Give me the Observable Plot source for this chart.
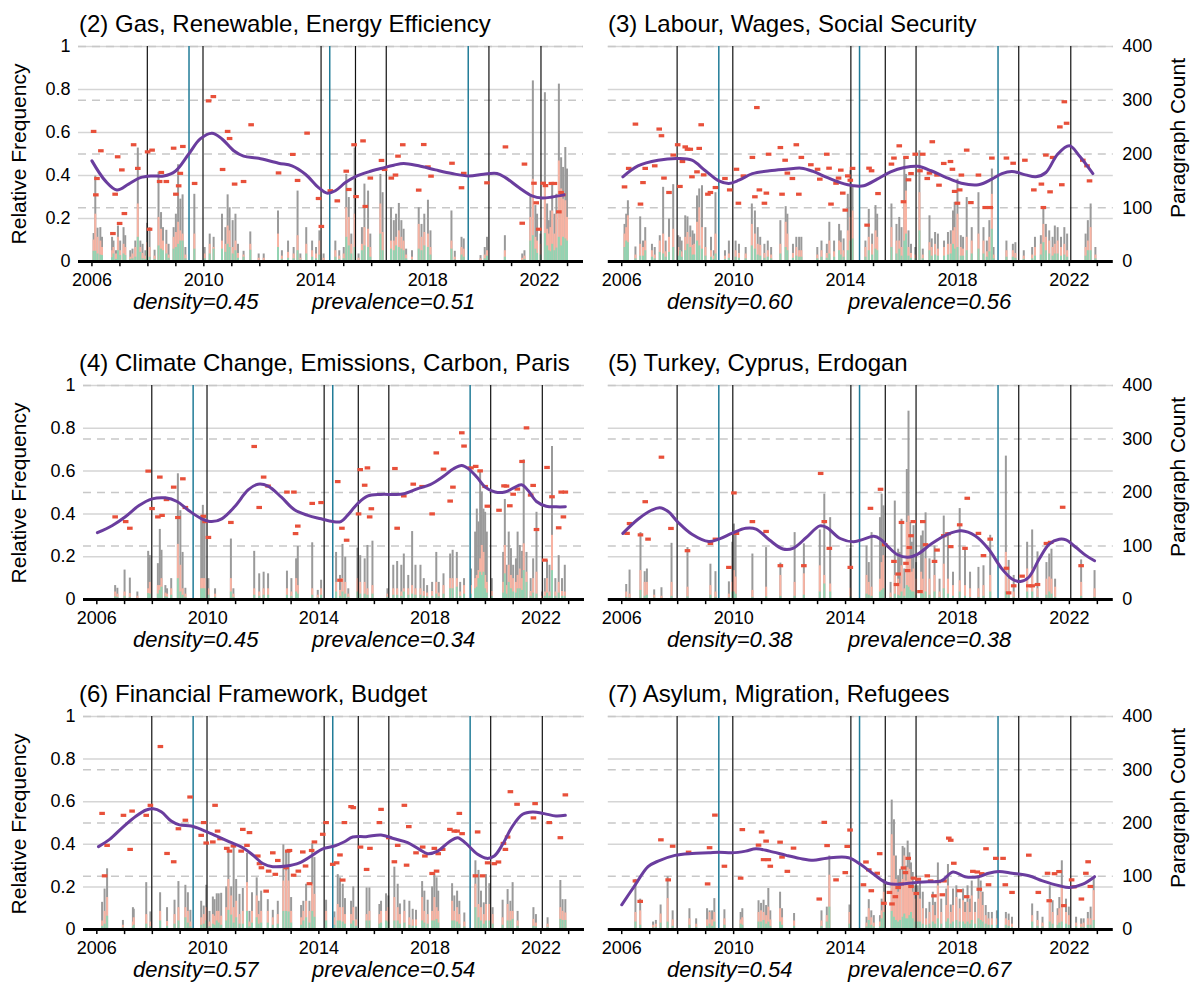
<!DOCTYPE html>
<html><head><meta charset="utf-8">
<script src="https://cdn.jsdelivr.net/npm/d3@7"></script>
<script src="https://cdn.jsdelivr.net/npm/@observablehq/plot@0.6"></script>
<style>
html,body{margin:0;padding:0;background:#fff;}
#root{position:relative;width:1193px;height:998px;overflow:hidden;font-family:"Liberation Sans",Arial,Helvetica,sans-serif;}
#root svg{position:absolute;}
</style></head><body><div id="root"></div>
<script>
// ---------- shared axis values ----------
const yearTicks = [2006,2007,2008,2009,2010,2011,2012,2013,2014,2015,2016,2017,2018,2019,2020,2021,2022,2023];
const yearLabels = [2006,2010,2014,2018,2022];
const relTicks = [0,0.2,0.4,0.6,0.8,1];
const countTicks = [0,100,200,300,400];
const countMax = 400;
const blackEvents = [2007.98,2009.97,2014.19,2015.42,2016.52,2020.19,2022.05];
const tealEvents = [2009.47,2014.5,2019.45];

const titles = ["(2) Gas, Renewable, Energy Efficiency","(3) Labour, Wages, Social Security","(4) Climate Change, Emissions, Carbon, Paris","(5) Turkey, Cyprus, Erdogan","(6) Financial Framework, Budget","(7) Asylum, Migration, Refugees"];
const densities = ["0.45","0.60","0.45","0.38","0.57","0.54"];
const prevalences = ["0.51","0.56","0.34","0.38","0.54","0.67"];

// bars: [year, paragraph count (gray), topic paragraphs (salmon), core (green)]
const bars2 = [[2006.06,52,40,19],[2006.12,159,88,19],[2006.2,62,45,14],[2006.3,63,38,12],[2006.36,45,26,11],[2006.72,45,20,7],[2006.77,38,26,14],[2006.86,20,14,4],[2006.93,66,45,20],[2007.01,38,20,11],[2007.13,63,32,14],[2007.19,48,26,11],[2007.37,20,8,4],[2007.45,23,14,5],[2007.55,38,26,8],[2007.64,211,107,45],[2007.73,38,26,17],[2007.81,32,15,5],[2007.91,20,10,4],[2007.97,71,35,20],[2008.06,63,26,8],[2008.24,21,10,4],[2008.38,166,82,29],[2008.47,91,60,23],[2008.54,63,38,20],[2008.66,58,32,14],[2008.74,32,12,6],[2008.92,63,45,23],[2009.0,88,54,26],[2009.08,180,73,32],[2009.16,116,57,38],[2009.24,124,51,38],[2009.34,26,12,5],[2009.66,125,51,23],[2010.03,26,14,5],[2010.21,51,32,14],[2010.35,45,26,23],[2010.65,88,38,23],[2010.77,63,32,17],[2010.85,124,66,32],[2010.92,100,57,26],[2011.03,76,26,14],[2011.13,88,38,20],[2011.22,32,15,6],[2011.42,19,12,8],[2011.66,55,32,21],[2011.96,14,6,2],[2012.14,14,6,2],[2012.65,94,51,26],[2012.79,20,10,4],[2013.01,38,17,6],[2013.21,26,14,5],[2013.35,131,48,20],[2013.45,14,6,3],[2013.66,63,32,14],[2013.87,38,20,8],[2014.01,26,14,5],[2014.13,57,38,12],[2014.28,14,6,2],[2014.7,38,20,8],[2014.84,20,10,4],[2015.0,26,14,5],[2015.09,162,100,45],[2015.18,119,82,29],[2015.27,51,32,14],[2015.39,211,88,26],[2015.53,14,6,2],[2015.65,63,32,20],[2015.74,144,63,29],[2015.87,131,60,26],[2015.95,51,26,8],[2016.31,162,107,51],[2016.39,128,54,20],[2016.69,100,38,23],[2016.79,76,38,20],[2016.87,88,45,29],[2016.97,108,57,26],[2017.06,76,45,23],[2017.14,60,38,20],[2017.23,23,12,5],[2017.44,20,8,3],[2017.68,100,69,23],[2017.78,69,45,20],[2017.88,88,54,29],[2018.01,114,51,26],[2018.1,57,26,12],[2018.85,94,38,23],[2018.97,19,8,3],[2019.21,45,26,12],[2019.29,42,23,8],[2019.89,11,5,2],[2020.04,26,12,5],[2020.12,45,20,10],[2020.76,48,20,8],[2021.38,14,6,2],[2021.46,20,10,4],[2021.67,120,82,38],[2021.76,336,153,48],[2021.85,104,45,23],[2021.91,88,38,15],[2022.03,51,32,12],[2022.19,314,144,52],[2022.27,107,60,29],[2022.33,76,51,20],[2022.39,94,63,18],[2022.45,144,94,32],[2022.53,88,51,20],[2022.6,125,88,25],[2022.69,330,187,45],[2022.77,193,135,29],[2022.84,175,116,45],[2022.92,212,113,42],[2022.98,172,82,38]];
const pts2 = [[2006.06,0.605],[2006.18,0.386],[2006.14,0.31],[2006.32,0.515],[2006.75,0.13],[2006.83,0.313],[2006.92,0.487],[2006.99,0.177],[2007.07,0.426],[2007.16,0.223],[2007.49,0.543],[2007.64,0.433],[2007.99,0.51],[2008.06,0.15],[2008.15,0.518],[2008.42,0.372],[2008.48,0.414],[2008.66,0.372],[2008.92,0.527],[2009.0,0.313],[2009.1,0.352],[2009.16,0.41],[2009.25,0.535],[2009.67,0.363],[2010.17,0.747],[2010.34,0.767],[2010.67,0.428],[2010.85,0.605],[2010.92,0.572],[2011.1,0.36],[2011.42,0.372],[2011.69,0.636],[2012.67,0.412],[2013.18,0.498],[2013.35,0.377],[2013.69,0.597],[2014.1,0.293],[2014.2,0.163],[2014.52,0.329],[2014.77,0.282],[2015.09,0.42],[2015.18,0.335],[2015.37,0.543],[2015.44,0.302],[2015.69,0.561],[2015.77,0.256],[2015.95,0.388],[2016.35,0.47],[2016.46,0.428],[2016.7,0.388],[2016.85,0.402],[2016.94,0.49],[2017.11,0.543],[2017.68,0.332],[2017.86,0.544],[2018.01,0.44],[2018.12,0.397],[2018.87,0.457],[2019.21,0.343],[2019.29,0.41],[2020.12,0.366],[2020.78,0.533],[2021.38,0.178],[2021.46,0.453],[2021.8,0.364],[2021.88,0.273],[2021.97,0.15],[2022.13,0.364],[2022.21,0.353],[2022.42,0.363],[2022.53,0.363],[2022.69,0.231],[2022.77,0.321],[2022.83,0.31]];
const smooth2 = [[2006.0,0.468],[2006.48,0.375],[2006.89,0.333],[2007.31,0.36],[2007.73,0.39],[2008.15,0.398],[2008.56,0.398],[2008.98,0.42],[2009.46,0.5],[2009.87,0.57],[2010.29,0.597],[2010.65,0.57],[2011.07,0.515],[2011.42,0.49],[2011.96,0.48],[2012.67,0.457],[2013.15,0.445],[2013.63,0.406],[2014.1,0.344],[2014.4,0.318],[2014.7,0.329],[2015.06,0.367],[2015.42,0.395],[2015.89,0.417],[2016.37,0.434],[2016.79,0.448],[2017.14,0.456],[2017.68,0.445],[2018.28,0.426],[2018.87,0.409],[2019.47,0.398],[2020.0,0.406],[2020.48,0.409],[2020.78,0.39],[2021.26,0.344],[2021.73,0.305],[2022.09,0.295],[2022.45,0.3],[2022.87,0.31]];

const bars3 = [[2006.1,69,51,26],[2006.16,88,63,38],[2006.22,113,85,35],[2006.49,27,12,5],[2006.66,83,32,10],[2006.76,38,26,10],[2006.84,63,38,20],[2007.08,32,20,8],[2007.18,26,12,5],[2007.36,48,38,17],[2007.48,138,51,14],[2007.57,38,18,8],[2007.69,79,45,17],[2007.84,143,60,26],[2008.02,48,26,10],[2008.08,45,20,20],[2008.14,38,18,8],[2008.27,85,45,20],[2008.35,83,54,32],[2008.45,66,45,26],[2008.53,57,30,12],[2008.59,51,32,12],[2008.69,122,73,38],[2008.77,135,100,29],[2008.87,141,63,23],[2008.99,63,26,10],[2009.19,45,20,8],[2009.29,20,10,4],[2009.35,128,51,14],[2009.69,20,10,4],[2009.83,38,14,6],[2010.07,38,20,8],[2010.19,32,15,6],[2010.43,26,14,5],[2010.65,107,69,29],[2010.76,94,51,23],[2010.86,63,32,12],[2010.95,45,30,10],[2011.1,32,15,6],[2011.22,38,20,8],[2011.34,26,12,5],[2011.67,76,32,14],[2011.86,102,73,26],[2011.92,88,51,20],[2012.12,32,15,6],[2012.24,45,26,10],[2012.34,45,20,8],[2012.42,45,20,8],[2012.99,26,12,5],[2013.14,38,20,8],[2013.33,32,15,6],[2013.42,73,38,14],[2013.59,38,18,8],[2013.77,69,38,20],[2013.83,57,35,12],[2013.93,42,20,8],[2014.08,125,57,20],[2014.17,169,82,38],[2014.25,138,94,42],[2014.71,38,26,8],[2014.83,97,45,20],[2014.95,51,32,12],[2015.07,104,57,23],[2015.13,88,45,20],[2015.64,107,63,26],[2015.82,69,38,14],[2015.92,82,38,23],[2016.0,63,26,10],[2016.1,193,113,38],[2016.16,162,131,51],[2016.25,57,26,10],[2016.34,32,15,6],[2016.49,26,12,5],[2016.64,206,128,57],[2016.76,23,12,5],[2017.0,85,35,20],[2017.08,42,26,10],[2017.2,54,32,12],[2017.3,51,23,10],[2017.52,38,26,10],[2017.66,54,32,12],[2017.76,57,32,14],[2017.84,94,57,32],[2017.9,110,63,23],[2018.0,153,88,26],[2018.12,48,26,10],[2018.2,45,23,10],[2018.33,119,45,20],[2018.51,63,38,14],[2018.75,128,51,23],[2018.93,63,38,14],[2019.05,38,18,8],[2019.14,76,45,18],[2019.23,172,125,60],[2019.29,26,12,5],[2019.75,38,20,8],[2019.98,32,20,8],[2020.07,35,15,6],[2020.37,20,10,4],[2020.67,26,12,5],[2020.77,45,26,10],[2020.98,48,32,12],[2021.07,102,69,35],[2021.16,69,45,20],[2021.28,57,38,14],[2021.4,45,26,10],[2021.48,66,32,14],[2021.58,63,38,14],[2021.7,45,26,10],[2021.82,63,32,12],[2021.92,51,20,8],[2022.58,51,26,10],[2022.66,76,38,20],[2022.76,107,63,20],[2022.93,26,12,5]];
const pts3 = [[2006.1,0.347],[2006.25,0.433],[2006.49,0.639],[2006.67,0.267],[2006.76,0.367],[2006.84,0.433],[2007.18,0.445],[2007.34,0.616],[2007.42,0.585],[2007.51,0.388],[2007.69,0.321],[2007.84,0.495],[2008.0,0.543],[2008.08,0.349],[2008.17,0.465],[2008.27,0.533],[2008.35,0.522],[2008.45,0.522],[2008.51,0.394],[2008.69,0.417],[2008.77,0.526],[2008.84,0.636],[2008.93,0.403],[2009.08,0.313],[2009.17,0.321],[2009.35,0.344],[2009.69,0.386],[2009.86,0.333],[2010.1,0.429],[2010.17,0.271],[2010.35,0.398],[2010.67,0.484],[2010.76,0.301],[2010.83,0.716],[2010.92,0.333],[2011.1,0.271],[2011.17,0.318],[2011.25,0.499],[2011.67,0.53],[2011.73,0.313],[2011.84,0.471],[2011.92,0.411],[2012.1,0.386],[2012.24,0.543],[2012.33,0.313],[2012.42,0.484],[2012.76,0.45],[2013.0,0.429],[2013.08,0.383],[2013.33,0.499],[2013.41,0.434],[2013.48,0.267],[2013.66,0.364],[2013.75,0.388],[2013.83,0.425],[2013.9,0.318],[2013.99,0.239],[2014.08,0.398],[2014.17,0.378],[2014.25,0.433],[2014.77,0.169],[2014.84,0.434],[2014.93,0.422],[2015.16,0.316],[2015.64,0.453],[2015.73,0.481],[2015.92,0.538],[2016.07,0.278],[2016.16,0.484],[2016.25,0.38],[2016.34,0.409],[2016.49,0.499],[2016.66,0.422],[2016.76,0.499],[2016.92,0.386],[2017.0,0.411],[2017.1,0.557],[2017.27,0.402],[2017.34,0.355],[2017.51,0.456],[2017.75,0.465],[2017.82,0.429],[2017.9,0.326],[2018.0,0.271],[2018.08,0.333],[2018.14,0.402],[2018.33,0.518],[2018.48,0.274],[2018.75,0.402],[2018.99,0.251],[2019.17,0.251],[2019.23,0.481],[2019.75,0.481],[2019.99,0.457],[2020.41,0.471],[2020.73,0.333],[2021.0,0.36],[2021.07,0.251],[2021.16,0.495],[2021.31,0.324],[2021.4,0.484],[2021.66,0.626],[2021.73,0.357],[2021.82,0.743],[2021.9,0.643],[2022.48,0.471],[2022.63,0.445],[2022.72,0.375]];
const smooth3 = [[2006.04,0.394],[2006.58,0.445],[2007.3,0.471],[2008.02,0.479],[2008.51,0.471],[2008.99,0.422],[2009.47,0.375],[2009.83,0.363],[2010.19,0.378],[2010.67,0.409],[2011.28,0.422],[2011.88,0.429],[2012.42,0.434],[2012.84,0.419],[2013.33,0.391],[2013.81,0.367],[2014.29,0.352],[2014.65,0.352],[2015.13,0.383],[2015.61,0.417],[2016.1,0.437],[2016.58,0.443],[2017.06,0.422],[2017.54,0.394],[2018.14,0.364],[2018.75,0.357],[2019.23,0.383],[2019.59,0.409],[2019.95,0.419],[2020.43,0.403],[2020.8,0.394],[2021.16,0.414],[2021.58,0.499],[2022.0,0.538],[2022.36,0.491],[2022.84,0.409]];

const bars4 = [[2006.66,26,14,5],[2006.74,21,10,4],[2007.0,55,14,6],[2007.19,40,11,4],[2007.46,14,6,2],[2007.85,90,20,11],[2007.91,82,32,10],[2008.2,67,26,10],[2008.27,131,26,17],[2008.33,92,39,23],[2008.47,26,12,5],[2008.53,20,10,4],[2008.68,39,20,8],[2008.92,235,103,39],[2009.01,166,64,14],[2009.09,88,20,8],[2009.19,21,10,4],[2009.76,157,39,20],[2009.82,176,39,20],[2009.88,154,39,20],[2010.02,39,20,8],[2010.26,20,10,4],[2010.83,113,39,14],[2010.92,20,10,4],[2011.67,90,20,8],[2011.85,48,14,6],[2012.01,51,20,8],[2012.17,48,20,8],[2012.85,53,20,8],[2013.01,39,14,6],[2013.18,76,39,14],[2013.24,99,26,10],[2013.76,106,20,8],[2013.96,17,8,3],[2014.08,36,20,8],[2014.62,88,32,14],[2014.76,45,17,6],[2014.85,103,39,14],[2014.95,79,32,10],[2015.06,20,10,4],[2015.39,96,39,14],[2015.49,82,32,10],[2015.65,76,32,10],[2015.75,101,20,8],[2015.93,109,26,10],[2016.47,20,10,4],[2016.68,64,20,8],[2016.82,71,20,8],[2016.97,64,14,6],[2017.06,85,20,14],[2017.22,45,20,8],[2017.36,127,26,10],[2017.48,64,20,8],[2017.66,64,20,8],[2017.78,39,15,6],[2017.9,26,12,5],[2018.08,32,15,6],[2018.23,88,32,10],[2018.32,32,12,5],[2018.49,48,26,10],[2018.73,85,39,20],[2018.82,92,39,20],[2018.97,88,39,23],[2019.09,32,14,6],[2019.23,39,26,10],[2019.48,57,26,10],[2019.63,126,39,20],[2019.69,169,45,23],[2019.75,145,54,39],[2019.81,238,76,51],[2019.87,201,101,45],[2019.93,169,88,51],[2019.99,163,45,20],[2020.05,126,32,12],[2020.23,39,15,6],[2020.64,88,32,12],[2020.7,187,101,48],[2020.76,64,26,10],[2020.84,126,64,32],[2020.92,95,45,20],[2021.0,64,39,14],[2021.1,76,32,12],[2021.16,126,45,20],[2021.24,101,57,20],[2021.32,90,39,17],[2021.38,261,104,54],[2021.48,88,51,32],[2021.63,39,15,6],[2021.72,76,39,12],[2021.84,163,51,10],[2022.04,14,6,2],[2022.14,39,14,6],[2022.22,73,39,12],[2022.31,64,14,6],[2022.4,286,120,54],[2022.52,39,14,6],[2022.64,82,32,12],[2022.76,39,15,6],[2022.86,64,14,6]];
const pts4 = [[2006.66,0.386],[2007.04,0.364],[2007.19,0.333],[2007.85,0.6],[2007.99,0.425],[2008.2,0.386],[2008.27,0.572],[2008.35,0.393],[2008.51,0.467],[2008.77,0.525],[2008.92,0.383],[2009.1,0.564],[2009.19,0.43],[2009.84,0.389],[2009.9,0.364],[2010.02,0.29],[2010.83,0.36],[2011.67,0.715],[2011.85,0.43],[2012.01,0.572],[2012.17,0.53],[2012.85,0.502],[2013.1,0.502],[2013.16,0.308],[2013.24,0.343],[2013.76,0.449],[2014.08,0.453],[2014.68,0.551],[2014.76,0.09],[2014.83,0.333],[2015.0,0.277],[2015.43,0.4],[2015.49,0.607],[2015.65,0.534],[2015.75,0.615],[2015.83,0.386],[2015.89,0.424],[2016.74,0.612],[2016.82,0.333],[2017.06,0.484],[2017.4,0.539],[2017.72,0.528],[2018.08,0.4],[2018.23,0.685],[2018.49,0.609],[2018.73,0.46],[2018.83,0.525],[2019.15,0.779],[2019.23,0.717],[2019.48,0.615],[2019.65,0.622],[2019.81,0.601],[2019.99,0.528],[2020.07,0.436],[2020.49,0.417],[2020.67,0.531],[2020.76,0.53],[2020.88,0.438],[2021.0,0.492],[2021.15,0.516],[2021.32,0.645],[2021.48,0.802],[2021.63,0.488],[2021.72,0.533],[2021.84,0.327],[2022.14,0.184],[2022.22,0.617],[2022.4,0.48],[2022.64,0.335],[2022.73,0.502],[2022.81,0.386],[2022.88,0.502]];
const smooth4 = [[2006.02,0.312],[2006.56,0.346],[2007.04,0.388],[2007.52,0.439],[2007.99,0.47],[2008.47,0.475],[2008.89,0.458],[2009.31,0.416],[2009.78,0.377],[2010.14,0.364],[2010.5,0.377],[2010.98,0.436],[2011.45,0.512],[2011.81,0.539],[2012.17,0.53],[2012.65,0.478],[2013.12,0.419],[2013.6,0.393],[2014.08,0.377],[2014.5,0.364],[2014.79,0.364],[2015.03,0.393],[2015.39,0.447],[2015.75,0.483],[2016.23,0.491],[2016.7,0.491],[2017.06,0.494],[2017.54,0.517],[2018.01,0.537],[2018.49,0.576],[2018.85,0.611],[2019.15,0.626],[2019.39,0.611],[2019.69,0.572],[2019.99,0.525],[2020.35,0.502],[2020.7,0.502],[2021.0,0.52],[2021.3,0.536],[2021.54,0.509],[2021.84,0.458],[2022.19,0.436],[2022.55,0.433],[2022.88,0.433]];

const bars5 = [[2006.16,28,14,4],[2006.28,55,10,3],[2006.67,125,54,17],[2006.82,52,32,6],[2006.9,57,32,8],[2007.16,18,8,3],[2007.42,22,6,2],[2007.78,105,32,6],[2008.35,97,23,5],[2009.17,66,26,8],[2009.35,52,14,4],[2009.83,33,10,3],[2009.95,107,32,14],[2010.01,141,54,14],[2010.07,125,42,10],[2010.67,85,17,4],[2011.16,97,23,5],[2011.67,68,45,6],[2012.18,125,32,6],[2012.51,104,48,8],[2013.08,130,63,14],[2013.24,197,45,29],[2013.45,153,29,14],[2014.17,95,21,5],[2014.75,100,45,10],[2014.83,69,32,8],[2014.93,125,23,6],[2015.23,153,38,14],[2015.29,197,69,17],[2015.35,175,82,20],[2015.61,32,12,4],[2015.76,184,45,10],[2015.88,94,38,8],[2015.94,88,29,6],[2016.0,150,63,14],[2016.1,57,20,6],[2016.19,243,144,26],[2016.25,352,156,23],[2016.31,144,76,17],[2016.37,107,51,14],[2016.43,138,57,14],[2016.52,69,38,8],[2016.7,119,51,14],[2016.76,128,38,10],[2016.86,162,76,14],[2017.0,76,38,8],[2017.18,100,45,14],[2017.36,38,14,4],[2017.51,156,66,20],[2017.66,125,38,10],[2017.84,51,26,6],[2018.08,170,35,14],[2018.27,94,26,6],[2018.45,51,20,4],[2018.75,60,20,4],[2018.93,63,26,6],[2019.17,120,45,14],[2019.73,268,88,14],[2019.83,73,38,8],[2020.01,45,14,4],[2020.49,107,57,14],[2020.67,130,57,14],[2020.86,89,20,4],[2021.18,69,38,8],[2021.28,85,42,14],[2021.36,94,38,10],[2021.49,38,23,4],[2022.42,74,32,6],[2022.9,54,20,4]];
const pts5 = [[2006.19,0.309],[2006.28,0.355],[2006.67,0.302],[2006.84,0.457],[2006.94,0.282],[2007.42,0.665],[2007.76,0.332],[2008.35,0.228],[2009.17,0.262],[2009.35,0.282],[2009.83,0.15],[2010.01,0.498],[2010.1,0.309],[2010.67,0.364],[2011.16,0.318],[2011.67,0.158],[2012.51,0.158],[2013.11,0.589],[2013.24,0.364],[2013.42,0.239],[2014.17,0.15],[2014.89,0.426],[2015.25,0.515],[2015.4,0.256],[2015.73,0.178],[2015.82,0.07],[2015.88,0.119],[2016.0,0.36],[2016.16,0.169],[2016.22,0.135],[2016.28,0.243],[2016.34,0.298],[2016.42,0.364],[2016.66,0.037],[2016.76,0.364],[2016.86,0.256],[2017.18,0.178],[2017.27,0.231],[2017.51,0.298],[2017.66,0.307],[2017.76,0.247],[2018.08,0.349],[2018.27,0.239],[2018.35,0.473],[2018.75,0.309],[2018.93,0.205],[2019.17,0.282],[2019.75,0.146],[2019.83,0.031],[2020.01,0.064],[2020.31,0.109],[2020.55,0.064],[2020.67,0.064],[2020.86,0.07],[2021.18,0.262],[2021.33,0.267],[2021.76,0.431],[2022.42,0.158]];
const smooth5 = [[2006.04,0.309],[2006.58,0.375],[2007.06,0.417],[2007.36,0.429],[2007.66,0.411],[2008.02,0.36],[2008.51,0.305],[2009.11,0.271],[2009.47,0.282],[2009.95,0.31],[2010.43,0.333],[2010.8,0.329],[2011.28,0.278],[2011.76,0.236],[2012.12,0.239],[2012.6,0.29],[2013.08,0.344],[2013.33,0.336],[2013.81,0.285],[2014.29,0.27],[2014.65,0.282],[2015.01,0.295],[2015.25,0.282],[2015.49,0.251],[2015.86,0.209],[2016.22,0.197],[2016.58,0.212],[2017.06,0.259],[2017.66,0.305],[2018.14,0.321],[2018.63,0.298],[2019.11,0.236],[2019.59,0.143],[2019.95,0.096],[2020.25,0.084],[2020.55,0.104],[2020.92,0.189],[2021.28,0.259],[2021.64,0.282],[2021.88,0.279],[2022.24,0.243],[2022.6,0.205],[2022.9,0.181]];

const bars6 = [[2006.19,51,16,6],[2006.28,76,34,10],[2006.37,114,60,25],[2006.94,17,8,3],[2007.3,41,14,5],[2007.33,38,22,8],[2007.78,88,28,10],[2007.93,33,14,5],[2008.28,69,34,16],[2008.53,41,15,6],[2008.8,55,28,10],[2008.94,90,41,16],[2009.19,83,41,22],[2009.28,69,34,12],[2009.37,36,14,5],[2009.76,53,22,8],[2009.85,44,28,10],[2009.94,83,41,16],[2010.06,34,14,5],[2010.18,61,28,10],[2010.24,56,25,8],[2010.32,67,34,16],[2010.39,67,34,12],[2010.48,68,25,8],[2010.66,80,41,16],[2010.74,154,94,36],[2010.84,80,63,27],[2010.93,161,41,12],[2011.02,94,53,22],[2011.14,66,28,10],[2011.26,77,34,10],[2011.41,143,88,34],[2011.5,34,14,5],[2011.59,69,34,12],[2011.76,97,63,22],[2011.83,53,28,10],[2011.92,72,34,12],[2012.16,56,34,12],[2012.34,36,22,8],[2012.52,53,28,10],[2012.72,159,91,34],[2012.82,147,110,34],[2012.91,150,91,33],[2013.0,60,34,12],[2013.36,45,22,8],[2013.44,53,34,16],[2013.54,85,53,22],[2013.66,53,34,12],[2013.76,161,85,34],[2013.84,135,66,23],[2014.26,55,34,16],[2014.56,33,22,8],[2014.68,103,47,16],[2014.76,97,41,16],[2014.86,85,41,14],[2014.94,58,28,10],[2015.16,53,28,10],[2015.24,80,41,16],[2015.34,42,18,6],[2015.72,78,28,16],[2015.82,78,34,16],[2016.18,47,28,10],[2016.24,53,34,12],[2016.42,67,34,16],[2016.5,63,41,14],[2016.72,117,60,16],[2016.84,85,41,16],[2016.92,48,28,10],[2017.08,55,34,12],[2017.26,53,22,8],[2017.38,38,18,6],[2017.5,36,18,6],[2017.72,90,60,16],[2017.8,72,34,12],[2017.92,55,28,10],[2018.08,80,34,16],[2018.16,105,60,16],[2018.24,97,41,19],[2018.3,72,34,12],[2018.8,86,53,16],[2018.88,63,34,16],[2018.98,72,41,14],[2019.06,53,28,10],[2019.24,31,14,5],[2019.64,129,85,41],[2019.75,111,47,22],[2019.84,72,41,16],[2019.94,50,28,10],[2020.02,103,47,16],[2020.14,86,47,16],[2020.26,41,28,10],[2020.62,55,22,8],[2020.8,75,47,16],[2020.9,53,34,16],[2020.98,88,34,19],[2021.16,34,16,6],[2021.73,41,19,6],[2021.82,28,12,5],[2022.24,22,10,4],[2022.7,92,41,19],[2022.78,56,34,17],[2022.88,56,31,17]];
const pts6 = [[2006.19,0.545],[2006.28,0.252],[2006.37,0.395],[2006.96,0.536],[2007.2,0.376],[2007.27,0.556],[2007.78,0.536],[2007.93,0.583],[2008.29,0.859],[2008.53,0.357],[2008.77,0.318],[2008.94,0.473],[2009.19,0.513],[2009.36,0.622],[2009.76,0.442],[2009.85,0.502],[2009.94,0.406],[2010.18,0.411],[2010.26,0.583],[2010.35,0.462],[2010.44,0.426],[2010.68,0.381],[2010.78,0.368],[2010.92,0.392],[2011.2,0.368],[2011.26,0.47],[2011.41,0.395],[2011.5,0.455],[2011.8,0.345],[2011.86,0.309],[2011.93,0.29],[2012.1,0.18],[2012.19,0.274],[2012.34,0.36],[2012.43,0.259],[2012.52,0.324],[2012.82,0.29],[2012.88,0.368],[2012.94,0.371],[2013.09,0.255],[2013.26,0.274],[2013.42,0.364],[2013.52,0.298],[2013.66,0.215],[2013.74,0.371],[2013.84,0.411],[2014.14,0.447],[2014.26,0.502],[2014.5,0.306],[2014.64,0.313],[2014.76,0.35],[2014.86,0.232],[2014.92,0.502],[2015.16,0.577],[2015.24,0.572],[2015.5,0.387],[2015.72,0.282],[2015.84,0.381],[2016.18,0.502],[2016.24,0.564],[2016.52,0.431],[2016.72,0.318],[2016.84,0.395],[2017.08,0.583],[2017.16,0.302],[2017.24,0.483],[2017.5,0.36],[2017.74,0.387],[2017.82,0.345],[2018.08,0.263],[2018.16,0.381],[2018.24,0.274],[2018.3,0.356],[2018.46,0.376],[2018.72,0.47],[2018.88,0.462],[2018.98,0.462],[2019.06,0.545],[2019.16,0.45],[2019.64,0.252],[2019.72,0.458],[2019.9,0.252],[2020.08,0.313],[2020.32,0.309],[2020.47,0.317],[2020.65,0.404],[2020.72,0.376],[2020.8,0.434],[2020.9,0.647],[2021.14,0.588],[2021.73,0.524],[2021.79,0.591],[2022.3,0.502],[2022.7,0.431],[2022.88,0.632]];
const smooth6 = [[2006.06,0.389],[2006.46,0.423],[2006.94,0.481],[2007.42,0.533],[2007.78,0.561],[2008.04,0.567],[2008.32,0.553],[2008.68,0.509],[2008.98,0.491],[2009.4,0.486],[2009.82,0.467],[2010.3,0.439],[2010.78,0.411],[2011.26,0.384],[2011.62,0.35],[2011.98,0.31],[2012.34,0.295],[2012.82,0.298],[2013.3,0.313],[2013.78,0.35],[2014.14,0.379],[2014.56,0.392],[2014.92,0.412],[2015.22,0.434],[2015.7,0.436],[2016.24,0.444],[2016.72,0.426],[2017.2,0.408],[2017.62,0.376],[2017.92,0.356],[2018.28,0.368],[2018.7,0.412],[2019.0,0.431],[2019.3,0.404],[2019.72,0.353],[2020.05,0.334],[2020.32,0.345],[2020.62,0.4],[2020.98,0.486],[2021.34,0.541],[2021.7,0.552],[2022.12,0.544],[2022.54,0.533],[2022.88,0.536]];

const bars7 = [[2006.49,94,32,14],[2006.66,57,35,8],[2007.12,14,8,3],[2007.22,17,10,4],[2007.39,46,29,12],[2007.64,99,58,14],[2007.82,35,18,6],[2008.42,39,20,8],[2008.66,20,10,4],[2009.05,39,18,6],[2009.14,35,32,10],[2009.23,35,18,6],[2009.31,58,32,14],[2009.67,37,20,8],[2010.25,32,18,10],[2010.31,39,22,8],[2010.89,54,32,14],[2010.98,49,35,14],[2011.07,55,32,17],[2011.16,45,26,10],[2011.24,77,42,14],[2011.31,35,18,6],[2011.66,70,39,14],[2011.73,39,22,8],[2012.16,30,16,6],[2013.14,35,16,6],[2013.33,42,26,14],[2013.42,138,102,42],[2014.14,46,32,10],[2014.75,23,12,5],[2014.83,56,39,17],[2014.92,35,22,8],[2015.01,26,12,5],[2015.23,26,14,5],[2015.29,57,35,20],[2015.37,94,70,32],[2015.65,243,178,34],[2015.73,206,138,23],[2015.8,138,94,17],[2015.88,101,70,14],[2015.95,113,82,17],[2016.04,156,94,23],[2016.1,153,138,29],[2016.16,119,91,20],[2016.22,166,116,20],[2016.28,144,113,26],[2016.34,125,94,32],[2016.4,107,70,20],[2016.49,82,57,14],[2016.58,82,70,14],[2016.66,88,57,14],[2016.76,70,39,10],[2016.88,39,20,8],[2017.0,51,32,10],[2017.12,70,45,14],[2017.2,51,26,10],[2017.3,125,82,20],[2017.42,57,32,10],[2017.6,76,45,14],[2017.66,122,82,20],[2017.76,46,32,10],[2017.84,76,45,14],[2017.96,82,60,17],[2018.08,57,39,14],[2018.2,76,54,14],[2018.27,51,32,10],[2018.36,82,51,14],[2018.45,57,32,10],[2018.51,91,63,17],[2018.63,51,32,10],[2018.75,101,57,20],[2018.83,91,70,17],[2018.9,70,45,14],[2019.01,45,26,10],[2019.11,32,20,8],[2019.23,32,20,8],[2019.41,35,20,8],[2019.73,32,20,8],[2019.83,29,17,6],[2019.95,23,10,4],[2020.67,48,26,14],[2020.86,34,17,6],[2021.04,23,12,5],[2021.3,82,57,14],[2021.4,54,32,10],[2021.58,39,26,8],[2021.64,60,39,12],[2021.73,129,79,14],[2021.88,57,32,10],[2021.98,42,26,8],[2022.24,23,12,5],[2022.42,20,10,4],[2022.51,20,12,4],[2022.66,32,20,8],[2022.76,42,20,8],[2022.87,97,73,17]];
const pts7 = [[2006.49,0.228],[2006.66,0.132],[2007.4,0.421],[2007.66,0.233],[2007.82,0.391],[2008.39,0.363],[2009.07,0.214],[2009.14,0.384],[2009.33,0.537],[2009.67,0.297],[2010.25,0.241],[2010.31,0.469],[2010.89,0.396],[2011.0,0.458],[2011.07,0.328],[2011.16,0.415],[2011.24,0.328],[2011.31,0.297],[2011.66,0.41],[2011.73,0.34],[2011.92,0.273],[2012.14,0.382],[2013.06,0.143],[2013.24,0.503],[2013.34,0.394],[2013.66,0.233],[2013.99,0.267],[2014.06,0.39],[2014.16,0.467],[2014.64,0.21],[2014.73,0.317],[2014.83,0.28],[2014.92,0.182],[2015.13,0.264],[2015.22,0.356],[2015.37,0.123],[2015.57,0.174],[2015.66,0.12],[2015.78,0.154],[2015.88,0.197],[2015.99,0.214],[2016.07,0.289],[2016.14,0.267],[2016.24,0.334],[2016.34,0.202],[2016.43,0.241],[2016.53,0.169],[2016.6,0.236],[2016.92,0.252],[2017.04,0.228],[2017.16,0.158],[2017.31,0.225],[2017.46,0.163],[2017.52,0.228],[2017.69,0.429],[2017.76,0.419],[2017.87,0.311],[2018.07,0.182],[2018.33,0.154],[2018.55,0.273],[2018.71,0.27],[2018.78,0.189],[2018.87,0.262],[2019.02,0.379],[2019.11,0.21],[2019.37,0.334],[2019.63,0.334],[2019.71,0.21],[2019.95,0.174],[2020.55,0.349],[2020.89,0.174],[2021.22,0.264],[2021.28,0.135],[2021.47,0.262],[2021.63,0.272],[2021.8,0.112],[2022.08,0.233],[2022.16,0.2],[2022.43,0.143],[2022.59,0.264],[2022.67,0.318],[2022.75,0.202]];
const smooth7 = [[2006.0,0.116],[2006.46,0.205],[2006.94,0.295],[2007.3,0.321],[2007.9,0.348],[2008.51,0.357],[2009.11,0.36],[2009.47,0.363],[2009.95,0.36],[2010.43,0.368],[2010.8,0.379],[2011.28,0.368],[2011.88,0.348],[2012.36,0.334],[2012.84,0.325],[2013.33,0.335],[2014.11,0.337],[2014.53,0.306],[2015.01,0.259],[2015.49,0.217],[2015.98,0.213],[2016.46,0.22],[2016.94,0.224],[2017.42,0.228],[2017.84,0.27],[2018.27,0.248],[2018.75,0.248],[2019.11,0.264],[2019.47,0.272],[2019.95,0.264],[2020.55,0.252],[2021.04,0.228],[2021.64,0.205],[2022.0,0.197],[2022.48,0.213],[2022.9,0.248]];

// ---------- layout (pixels) ----------
const rowTop = [46, 385, 716];
const rowH = [215, 214, 213];
const leftRange = [[78,583],[83,584],[83,584]];
const rightRange = [607.8, 1112.8];
const xDomain = [2005.52, 2023.57];

const panels = [
  {title:0, side:"left", row:0, bars:bars2, pts:pts2, smooth:smooth2},
  {title:1, side:"right", row:0, bars:bars3, pts:pts3, smooth:smooth3},
  {title:2, side:"left", row:1, bars:bars4, pts:pts4, smooth:smooth4},
  {title:3, side:"right", row:1, bars:bars5, pts:pts5, smooth:smooth5},
  {title:4, side:"left", row:2, bars:bars6, pts:pts6, smooth:smooth6},
  {title:5, side:"right", row:2, bars:bars7, pts:pts7, smooth:smooth7}
];

const dash = {draw(ctx){ctx.moveTo(-2.8,-1.6);ctx.lineTo(2.8,-1.6);ctx.lineTo(2.8,1.6);ctx.lineTo(-2.8,1.6);ctx.closePath();}};
const root = document.getElementById("root");
const FONT = "Liberation Sans, Arial, Helvetica, sans-serif";

panels.forEach(p => {
  const left = p.side === "left";
  const svgLeft = left ? 0 : 596;
  const svgW = left ? 596 : 597;
  const [x0, x1] = left ? leftRange[p.row] : rightRange;
  const mT = 10, mB = 34;
  const h = rowH[p.row];
  const chart = Plot.plot({
    width: svgW, height: mT + h + mB,
    marginTop: mT, marginBottom: mB,
    marginLeft: x0 - svgLeft, marginRight: svgLeft + svgW - x1,
    x: {domain: xDomain, label: null},
    y: {domain: [0, 1], label: null},
    style: {fontFamily: FONT, fontSize: "18px", color: "#000", background: "none", overflow: "visible"},
    marks: [
      Plot.ruleY(relTicks.filter(d => d > 0), {stroke: "#d5d5d5", strokeWidth: 1.5}),
      Plot.ruleY(countTicks.filter(d => d > 0), {y: d => d / countMax, stroke: "#c8c8c8", strokeWidth: 1.3, strokeDasharray: "8,6"}),
      Plot.ruleX(p.bars, {x: d => d[0], y1: 0, y2: d => d[1] / countMax, stroke: "#9a9a9a", strokeWidth: 2}),
      Plot.ruleX(p.bars, {x: d => d[0], y1: 0, y2: d => d[2] / countMax, stroke: "#f7b3a3", strokeWidth: 2}),
      Plot.ruleX(p.bars, {x: d => d[0], y1: 0, y2: d => d[3] / countMax, stroke: "#93d3b2", strokeWidth: 2}),
      Plot.ruleX(blackEvents, {stroke: "#111", strokeWidth: 1.2}),
      Plot.ruleX(tealEvents, {stroke: "#217c98", strokeWidth: 1.5}),
      Plot.dot(p.pts, {x: d => d[0], y: d => d[1], symbol: dash, r: 3, fill: "#e8503a", stroke: "none"}),
      Plot.line(p.smooth, {x: d => d[0], y: d => d[1], curve: "catmull-rom", stroke: "#6a3d9e", strokeWidth: 3}),
      Plot.ruleY([0], {stroke: "#000", strokeWidth: 3}),
      Plot.ruleX(yearTicks, {x: d => d, y1: 0, y2: -0.024, stroke: "#000", strokeWidth: 1.5}),
      Plot.axisX({ticks: yearLabels, tickSize: 0, tickPadding: 12, fontSize: 18, tickFormat: d => String(d), label: null}),
      left
        ? Plot.axisY({anchor: "left", ticks: relTicks, tickSize: 0, tickPadding: 8, fontSize: 18, tickFormat: d => String(d), label: null})
        : Plot.axisY({anchor: "right", ticks: countTicks.map(c => c / countMax), tickSize: 0, tickPadding: 9, fontSize: 18, tickFormat: d => String(Math.round(d * countMax)), label: null})
    ]
  });
  chart.style.left = svgLeft + "px";
  chart.style.top = (rowTop[p.row] - mT) + "px";
  root.appendChild(chart);
});

// ---------- text overlay ----------
const ov = d3.select(root).append("svg").attr("width", 1193).attr("height", 998)
  .style("left", "0px").style("top", "0px").style("font-family", FONT);
panels.forEach(p => {
  const left = p.side === "left";
  const top = rowTop[p.row], bottom = rowTop[p.row] + rowH[p.row];
  ov.append("text").attr("x", left ? 79 : 608).attr("y", top - 14)
    .attr("font-size", 24).attr("fill", "#000").text(titles[p.title]);
  ov.append("text").attr("x", left ? 133 : 667).attr("y", bottom + 48)
    .attr("font-size", 22).attr("font-style", "italic").text("density=" + densities[p.title]);
  ov.append("text").attr("x", left ? 312 : 848).attr("y", bottom + 48)
    .attr("font-size", 22).attr("font-style", "italic").text("prevalence=" + prevalences[p.title]);
  if (left) {
    ov.append("text").attr("transform", `translate(26,${top + 108}) rotate(-90)`)
      .attr("text-anchor", "middle").attr("font-size", 21).text("Relative Frequency");
  } else {
    ov.append("text").attr("transform", `translate(1185,${top + 92}) rotate(-90)`)
      .attr("text-anchor", "middle").attr("font-size", 21).text("Paragraph Count");
  }
});
</script></body></html>
